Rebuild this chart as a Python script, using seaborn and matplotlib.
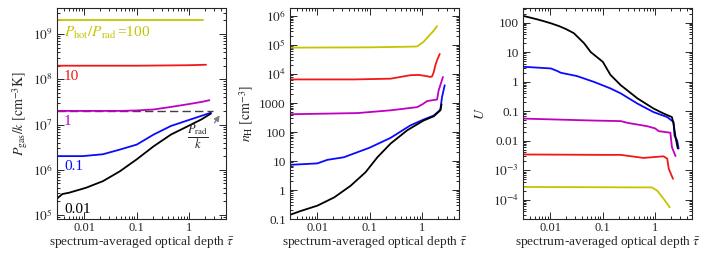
import numpy as np
import pandas as pd
import matplotlib
matplotlib.use("Agg")
import matplotlib.pyplot as plt
from matplotlib.ticker import FuncFormatter, LogLocator, NullFormatter
import seaborn as sns

# ---- data ----
# panel 1: P_gas/k  [cm^-3 K]
tau_p_black = [0.003, 0.0038, 0.0051, 0.0108, 0.0227, 0.048, 0.1, 0.21, 0.45, 0.93, 1.7, 2.6]
p_black = [2.3e5, 2.9e5, 3.1e5, 4.0e5, 5.6e5, 9.3e5, 1.7e6, 3.3e6, 6.0e6, 9.1e6, 1.29e7, 1.74e7]
tau_p_blue = [0.003, 0.0093, 0.0226, 0.048, 0.1, 0.21, 0.45, 0.93, 1.7, 2.6]
p_blue = [2.0e6, 2.0e6, 2.2e6, 2.8e6, 3.6e6, 6.0e6, 9.3e6, 1.23e7, 1.55e7, 1.82e7]
tau_p_mag = [0.003, 0.05, 0.1, 0.21, 0.45, 0.93, 1.7, 2.44]
p_mag = [2.0e7, 2.0e7, 2.05e7, 2.15e7, 2.45e7, 2.8e7, 3.15e7, 3.45e7]
tau_p_red = [0.003, 0.1, 1.0, 2.1]
p_red = [2.0e8, 2.0e8, 2.05e8, 2.1e8]
tau_p_yel = [0.003, 1.8]
p_yel = [2.0e9, 2.0e9]
p_rad = 2.0e7
tau_prad_end = 2.8

# panel 2: n_H [cm^-3]
tau_n_yel = [0.003, 0.1, 0.5, 0.8, 1.07, 1.34, 1.66, 1.93]
n_yel = [8.1e4, 8.3e4, 8.7e4, 8.9e4, 1.29e5, 2.04e5, 3.1e5, 4.5e5]
tau_n_red = [0.003, 0.05, 0.25, 0.6, 0.86, 1.2, 1.44, 1.55, 1.67, 1.79, 1.93, 2.17]
n_red = [6.5e3, 6.5e3, 6.9e3, 9.1e3, 9.3e3, 8.5e3, 7.9e3, 8.3e3, 1.17e4, 2.0e4, 3.0e4, 4.9e4]
tau_n_mag = [0.003, 0.058, 0.25, 0.8, 1.0, 1.25, 1.93, 2.07, 2.5]
n_mag = [410, 450, 560, 720, 890, 1170, 1320, 2750, 7900]
tau_n_blue = [0.003, 0.01, 0.0155, 0.032, 0.1, 0.25, 0.6, 1.07, 1.67, 2.23, 2.4, 2.7]
n_blue = [7.4, 8.3, 11, 13.5, 29, 63, 170, 270, 370, 590, 1620, 4100]
tau_n_black = [0.003, 0.0048, 0.01, 0.021, 0.043, 0.083, 0.14, 0.25, 0.52, 1.07, 1.67, 2.23, 2.35]
n_black = [0.14, 0.19, 0.29, 0.56, 1.4, 4.1, 13.5, 40, 115, 250, 350, 560, 900]

# panel 3: U
tau_u_black = [0.003, 0.004, 0.0056, 0.0075, 0.0102, 0.015, 0.02, 0.028, 0.044, 0.059, 0.1, 0.14,
               0.22, 0.46, 0.93, 1.45, 2.09, 2.24, 2.45, 2.7]
u_black = [170, 150, 129, 112, 95, 75, 60, 44, 20, 10, 4.7, 1.7,
           0.76, 0.27, 0.123, 0.083, 0.063, 0.038, 0.013, 0.0055]
tau_u_blue = [0.003, 0.0102, 0.0135, 0.0158, 0.032, 0.068, 0.14, 0.22, 0.46, 0.93, 1.7, 2.24, 2.34, 2.63, 2.8]
u_blue = [3.2, 2.8, 2.3, 2.0, 1.55, 0.98, 0.59, 0.40, 0.18, 0.093, 0.063, 0.043, 0.015, 0.010, 0.0054]
tau_u_mag = [0.003, 0.068, 0.22, 0.3, 0.7, 1.0, 1.17, 1.95, 2.09, 2.45]
u_mag = [0.056, 0.048, 0.046, 0.04, 0.031, 0.026, 0.021, 0.0186, 0.006, 0.003]
tau_u_red = [0.003, 0.1, 0.22, 0.6, 1.45, 1.7, 1.82, 2.19]
u_red = [3.4e-3, 3.3e-3, 3.3e-3, 2.6e-3, 2.95e-3, 2.45e-3, 1.1e-3, 5.1e-4]
tau_u_yel = [0.003, 0.87, 1.1, 1.45, 1.9]
u_yel = [2.7e-4, 2.6e-4, 2.0e-4, 1.07e-4, 5.5e-5]

ratio_labels = [r"$P_{\rm hot}/P_{\rm rad}\,$=100", "10", "1", "0.1", "0.01"]
colors = ["#c4c400", "#f01818", "#c000c0", "#0a0aff", "#000000"]

# ---- style ----
sns.set_style("ticks")
plt.rcParams["font.family"] = ["Liberation Serif", "DejaVu Serif"]
plt.rcParams["mathtext.fontset"] = "stix"
plt.rcParams["font.size"] = 9

fig = plt.figure(figsize=(7.09, 2.63), dpi=100)
bot, h, w = 0.167, 0.803, 0.238
ax1 = fig.add_axes([0.0804, bot, w, h])
ax2 = fig.add_axes([0.409, bot, w, h])
ax3 = fig.add_axes([0.7377, bot, w, h])


def yfmt(v, pos):
    if 0.009 < v < 1001:
        return "%g" % v
    return r"$10^{%d}$" % int(round(np.log10(v)))


def draw(ax, taus, vals):
    for t, v, c in zip(taus, vals, colors):
        sns.lineplot(x=t, y=v, color=c, lw=1.3, ax=ax, legend=False)


draw(ax1, [tau_p_yel, tau_p_red, tau_p_mag, tau_p_blue, tau_p_black],
     [p_yel, p_red, p_mag, p_blue, p_black])
draw(ax2, [tau_n_yel, tau_n_red, tau_n_mag, tau_n_blue, tau_n_black],
     [n_yel, n_red, n_mag, n_blue, n_black])
draw(ax3, [tau_u_yel, tau_u_red, tau_u_mag, tau_u_blue, tau_u_black],
     [u_yel, u_red, u_mag, u_blue, u_black])

ax1.plot([0.003, tau_prad_end], [p_rad, p_rad], ls=(0, (6, 3)), color="0.25", lw=1.0, zorder=1)

for ax in (ax1, ax2, ax3):
    ax.set_xscale("log")
    ax.set_yscale("log")
    ax.set_xlim(0.003, 5.0)
    ax.xaxis.set_major_formatter(FuncFormatter(lambda v, p: "%g" % v))
    ax.yaxis.set_major_formatter(FuncFormatter(yfmt))
    ax.yaxis.set_major_locator(LogLocator(base=10, numticks=20))
    ax.yaxis.set_minor_locator(LogLocator(base=10, subs=np.arange(2, 10), numticks=20))
    ax.yaxis.set_minor_formatter(NullFormatter())
    ax.xaxis.set_minor_formatter(NullFormatter())
    ax.tick_params(which="both", direction="in", top=True, right=True, width=0.7)
    ax.tick_params(which="major", length=5, labelsize=9.5, pad=3)
    ax.tick_params(axis="x", which="major", labelsize=9, pad=2)
    ax.tick_params(which="minor", length=2.5)
    for s in ax.spines.values():
        s.set_linewidth(0.8)
    ax.set_xlabel(r"spectrum-averaged optical depth $\bar{\tau}$", fontsize=9.6, labelpad=0)

ax1.set_ylim(8.1e4, 3.8e9)
ax2.set_ylim(0.1, 1.9e6)
ax3.set_ylim(2.2e-5, 316)

ax1.set_ylabel(r"$P_{\rm gas}/k\ [{\rm cm}^{-3}{\rm K}]$", fontsize=10, labelpad=2)
ax2.set_ylabel(r"$n_{\rm H}\ [{\rm cm}^{-3}]$", fontsize=10, labelpad=2)
ax3.set_ylabel(r"$U$", fontsize=10, labelpad=4)

# curve labels in the first panel
for lab, v, c in zip(ratio_labels, [p_yel[0], p_red[0], p_mag[0], p_blue[0], p_black[0]], colors):
    ax1.annotate(lab, xy=(0.0041, v), xytext=(0, -3), textcoords="offset points",
                 va="top", ha="left", color=c, fontsize=11)

ax1.annotate("", xy=(4.1, 1.8e7), xytext=(2.85, 9.7e6),
             arrowprops=dict(arrowstyle="-|>", color="0.5", lw=1.0, mutation_scale=8))
ax1.text(1.45, 5.4e6, r"$\dfrac{P_{\rm rad}}{k}$", ha="center", va="center", fontsize=9, color="0.15")

fig.savefig("out.png", dpi=100)
